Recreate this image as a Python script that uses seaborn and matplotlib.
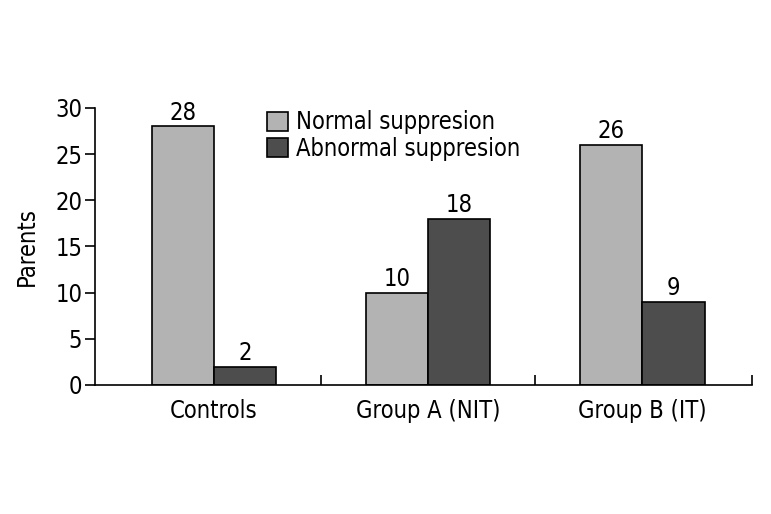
import pandas as pd
import seaborn as sns
import matplotlib.pyplot as plt

groups = ["Controls", "Group A (NIT)", "Group B (IT)"]
normal = [28, 10, 26]
abnormal = [2, 18, 9]
series = ["Normal suppresion", "Abnormal suppresion"]

df = pd.DataFrame({
    "group": groups * 2,
    "value": normal + abnormal,
    "kind": [series[0]] * 3 + [series[1]] * 3,
})

sns.set_style("ticks")
plt.rcParams["font.family"] = ["DejaVu Sans"]
plt.rcParams["font.stretch"] = "condensed"
plt.rcParams["text.color"] = "black"
plt.rcParams["axes.labelcolor"] = "black"
plt.rcParams["xtick.color"] = "black"
plt.rcParams["ytick.color"] = "black"

fig = plt.figure(figsize=(7.71, 5.14), dpi=100)
ax = fig.add_axes([0.123, 0.251, 0.852, 0.539])

sns.barplot(data=df, x="group", y="value", hue="kind", ax=ax,
            palette=["#b3b3b3", "#4d4d4d"], width=0.58,
            edgecolor="black", linewidth=1.2, saturation=1)

for c in ax.containers:
    ax.bar_label(c, fontsize=17, padding=1, clip_on=False)

ax.set_xlim(-0.555, 2.51)
ax.set_ylim(0, 30)
ax.set_yticks(range(0, 31, 5))
ax.set_xticks([0.5, 1.5, 2.51], minor=False)
ax.set_xticks([0, 1, 2], minor=True)
ax.set_xticklabels([], minor=False)
ax.set_xticklabels(groups, minor=True)
ax.tick_params(axis="x", which="major", direction="in", length=7, width=1.2)
ax.tick_params(axis="x", which="minor", length=0, labelsize=17, pad=10)
ax.tick_params(axis="y", direction="out", length=7, width=1.2, labelsize=17, pad=2)
for s in ["top", "right"]:
    ax.spines[s].set_visible(False)
for s in ["left", "bottom"]:
    ax.spines[s].set_linewidth(1.2)
    ax.spines[s].set_color("black")
ax.set_xlabel("")
ax.set_ylabel("Parents", fontsize=17, labelpad=12)

ax.legend(loc="upper left", bbox_to_anchor=(0.248, 1.025), frameon=False,
          fontsize=17, handlelength=0.9, handleheight=0.9, handletextpad=0.3,
          labelspacing=0.1, borderaxespad=0)

fig.savefig("out.png", dpi=100)
